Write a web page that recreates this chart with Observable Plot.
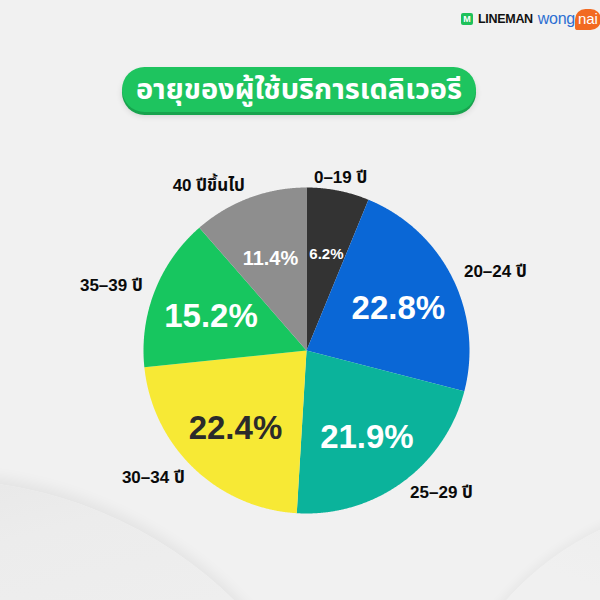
<!DOCTYPE html>
<html>
<head>
<meta charset="utf-8">
<script src="https://cdn.jsdelivr.net/npm/d3@7"></script>
<script src="https://cdn.jsdelivr.net/npm/@observablehq/plot@0.6"></script>
<style>
  body { margin: 0; }
  #page { position: relative; width: 600px; height: 600px; background: #f1f1f1; overflow: hidden;
          font-family: "Liberation Sans", "Noto Sans Thai", "Noto Sans", sans-serif; }
  .swoosh { position: absolute; border-radius: 50%; }
  #logo { position: absolute; left: 461px; top: 8px; height: 22px; display: flex; align-items: center; white-space: nowrap; }
  #logo .icon { width: 12px; height: 12px; background: #1ec15a; border-radius: 2px; color: #fff; font: bold 9px "Liberation Sans", sans-serif; display: flex; align-items: center; justify-content: center; }
  #logo .lm { margin-left: 5px; font: 900 12.5px "Liberation Sans", sans-serif; color: #111; letter-spacing: -0.3px; }
  #logo .wong { margin-left: 5px; font: 16px "Liberation Sans", sans-serif; color: #2d6fd2; letter-spacing: -0.3px; }
  #logo .nai { margin-left: 0px; background: #f26a21; color: #fff; font: 15px "Liberation Sans", sans-serif; border-radius: 12px 12px 12px 3px; padding: 1px 3px 3px 3px; }
  #title { position: absolute; left: 122px; top: 67px; width: 354px; height: 45px; border-radius: 23px; background: #1ec45f;
           box-shadow: 0 3px 0 #17a34d, 0 4px 6px rgba(0,0,0,0.12);
           color: #fff; font-weight: bold; font-size: 29px; display: flex; align-items: center; justify-content: center;
           font-family: "Noto Sans Thai", "Noto Sans", sans-serif; }
  #chart { position: absolute; left: 0; top: 130px; }
</style>
</head>
<body>
<div id="page">
  <div class="swoosh" style="left:-480px; top:480px; width:840px; height:840px; background: linear-gradient(165deg, #e2e2e2, #ececec 18%, #f0f0f0 40%); box-shadow: 0 -6px 14px rgba(0,0,0,0.06);"></div>
  <div class="swoosh" style="left:430px; top:500px; width:600px; height:600px; background: linear-gradient(200deg, #e9e9e9, #f0f0f0 30%); box-shadow: -3px -3px 10px rgba(0,0,0,0.04);"></div>
  <div id="logo"><div class="icon">M</div><span class="lm">LINEMAN</span><span class="wong">wong</span><span class="nai">nai</span></div>
  <div id="title">อายุของผู้ใช้บริการเดลิเวอรี</div>
  <div id="chart"></div>
</div>
<script>
const categories = ["0–19 ปี", "20–24 ปี", "25–29 ปี", "30–34 ปี", "35–39 ปี", "40 ปีขึ้นไป"];
const shares = [6.2, 22.8, 21.9, 22.4, 15.2, 11.4];
const palette = ["#333333", "#0a67d6", "#0bb39b", "#f7e935", "#17c65f", "#8e8e8e"];

const arcs = d3.pie().sort(null).value(d => d)(shares);
const slices = arcs.map((a, i) => ({cat: categories[i], value: shares[i], a0: a.startAngle, a1: a.endAngle, mid: (a.startAngle + a.endAngle) / 2}));

// polygon outline of each slice, computed from pie angles
const outline = [];
for (const s of slices) {
  outline.push({cat: s.cat, x: 0, y: 0});
  const n = Math.ceil((s.a1 - s.a0) / 0.005);
  for (let k = 0; k <= n; k++) {
    const t = s.a0 + (s.a1 - s.a0) * k / n;
    outline.push({cat: s.cat, x: Math.sin(t), y: Math.cos(t)});
  }
  outline.push({cat: s.cat, x: 0, y: 0});
}

const colorOf = Object.fromEntries(categories.map((c, i) => [c, palette[i]]));
const isLight = c => d3.lab(colorOf[c]).l > 80;
const pctSize = v => v >= 15 ? 33 : v >= 10 ? 20 : 15;
const rIn = 0.63, rOut = 1.08;

const pctMark = (light) => Plot.text(slices, {
  filter: d => isLight(d.cat) === light,
  x: d => rIn * Math.sin(d.mid), y: d => rIn * Math.cos(d.mid),
  text: d => d.value.toFixed(1) + "%",
  fontSize: d => pctSize(d.value),
  fontWeight: "bold",
  fill: light ? "#2b2b2b" : "#ffffff",
  dy: 4,
  fontFamily: "Liberation Sans, sans-serif"
});

const anchorOf = d => { const s = Math.sin(d.mid); return s > 0.3 ? "start" : s < -0.3 ? "end" : "middle"; };

const chart = Plot.plot({
  width: 600, height: 470, margin: 0,
  x: {domain: [-1, 1], range: [143, 469], axis: null},
  y: {domain: [-1, 1], range: [383, 57], axis: null},
  color: {domain: categories, range: palette},
  style: {background: "transparent", overflow: "visible"},
  marks: [
    Plot.line(outline, {x: "x", y: "y", z: "cat", fill: "cat", stroke: "none", curve: "linear"}),
    pctMark(false),
    pctMark(true),
    ...["start", "end", "middle"].map(anc => Plot.text(slices, {
      filter: d => anchorOf(d) === anc,
      x: d => rOut * Math.sin(d.mid), y: d => rOut * Math.cos(d.mid),
      text: "cat",
      textAnchor: anc,
      fontSize: 17, fontWeight: "bold", fill: "#0a0a0a",
      fontFamily: "Liberation Sans, Noto Sans Thai, sans-serif"
    }))
  ]
});
document.getElementById("chart").appendChild(chart);
</script>
</body>
</html>
